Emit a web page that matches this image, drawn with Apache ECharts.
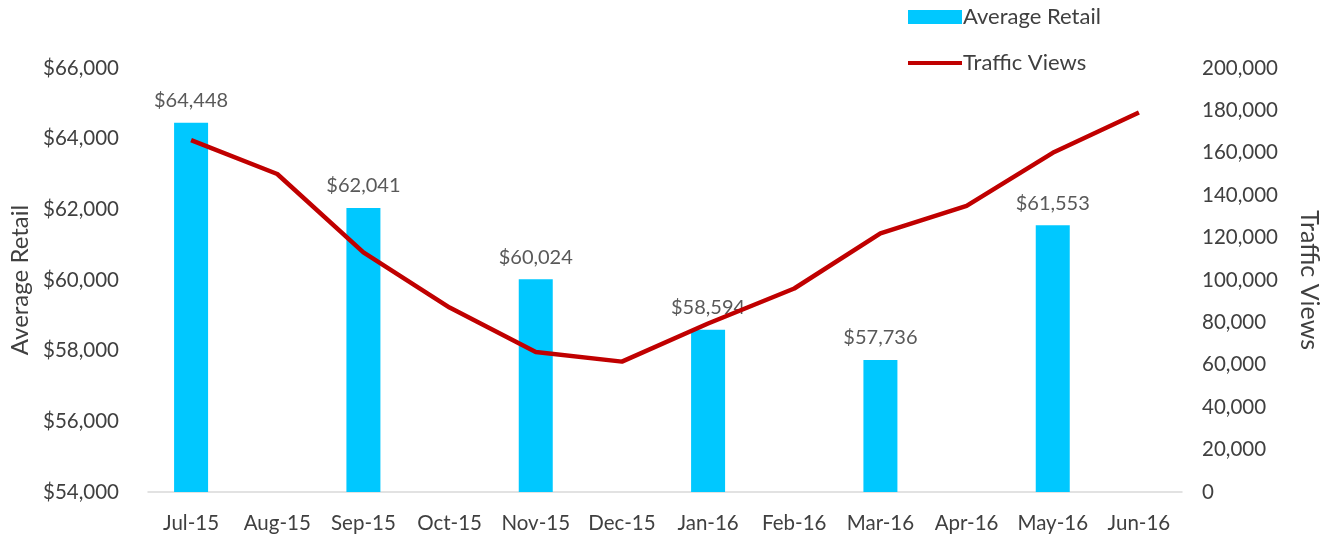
<!DOCTYPE html>
<html>
<head>
<meta charset="utf-8">
<title>Average Retail vs Traffic Views</title>
<script src="https://cdn.jsdelivr.net/npm/echarts@6/dist/echarts.min.js"></script>
<style>
  html, body { margin: 0; padding: 0; background: #fff; }
  #chart { width: 1330px; height: 539px; }
</style>
</head>
<body>
<div id="chart"></div>
<script>
// data
const months = ['Jul-15', 'Aug-15', 'Sep-15', 'Oct-15', 'Nov-15', 'Dec-15',
                'Jan-16', 'Feb-16', 'Mar-16', 'Apr-16', 'May-16', 'Jun-16']
const averageRetail = [64448, null, 62041, null, 60024, null, 58594, null, 57736, null, 61553, null]
const trafficViews = [166000, 150000, 113000, 87000, 66000, 61500, 79500, 96000, 122000, 135000, 160000, 179000]

const retailTicks = { min: 54000, max: 66000, interval: 2000 }
const trafficTicks = { min: 0, max: 200000, interval: 20000 }

const FONT = 'Lato'
const fmt = v => v.toLocaleString('en-US')

const chart = echarts.init(document.getElementById('chart'))
chart.setOption({
  animation: false,
  textStyle: { fontFamily: FONT },
  grid: { left: 146, right: 147, top: 68, bottom: 47 },
  legend: {
    orient: 'vertical',
    left: 903,
    top: 1,
    itemGap: 24,
    itemWidth: 54,
    itemHeight: 14,
    symbolKeepAspect: true,
    textStyle: { fontSize: 22, color: '#404040', fontFamily: FONT, padding: [0, 0, 0, -4] },
    data: [
      { name: 'Average Retail', icon: 'rect' },
      // plain thick line, no marker
      { name: 'Traffic Views', icon: 'path://M0,0H54V4H0Z' }
    ]
  },
  xAxis: {
    type: 'category',
    data: months,
    axisLine: { lineStyle: { color: '#d9d9d9', width: 1.5 } },
    axisTick: { show: false },
    axisLabel: { fontSize: 20.5, color: '#404040', margin: 21, interval: 0 }
  },
  yAxis: [
    {
      type: 'value',
      ...retailTicks,
      name: 'Average Retail',
      nameLocation: 'middle',
      nameGap: 116,
      nameTextStyle: { fontSize: 24, color: '#404040' },
      splitLine: { show: false },
      axisLine: { show: false },
      axisTick: { show: false },
      axisLabel: { fontSize: 20.5, color: '#404040', margin: 29, formatter: v => '$' + fmt(v) }
    },
    {
      type: 'value',
      ...trafficTicks,
      name: 'Traffic Views',
      nameLocation: 'middle',
      nameGap: 115,
      nameRotate: -90,
      nameTextStyle: { fontSize: 25, color: '#404040' },
      splitLine: { show: false },
      axisLine: { show: false },
      axisTick: { show: false },
      axisLabel: { fontSize: 20.5, color: '#404040', margin: 20, formatter: v => fmt(v) }
    }
  ],
  series: [
    {
      name: 'Average Retail',
      type: 'bar',
      yAxisIndex: 0,
      barWidth: 34,
      data: averageRetail,
      itemStyle: { color: '#00c8ff' },
      label: {
        show: true,
        position: 'top',
        distance: 12,
        fontSize: 20,
        color: '#595959',
        formatter: p => '$' + fmt(p.value)
      }
    },
    {
      name: 'Traffic Views',
      type: 'line',
      yAxisIndex: 1,
      data: trafficViews,
      symbol: 'none',
      lineStyle: { color: '#c00000', width: 4.5 },
      itemStyle: { color: '#c00000' },
      z: 5
    }
  ]
})
</script>
</body>
</html>
